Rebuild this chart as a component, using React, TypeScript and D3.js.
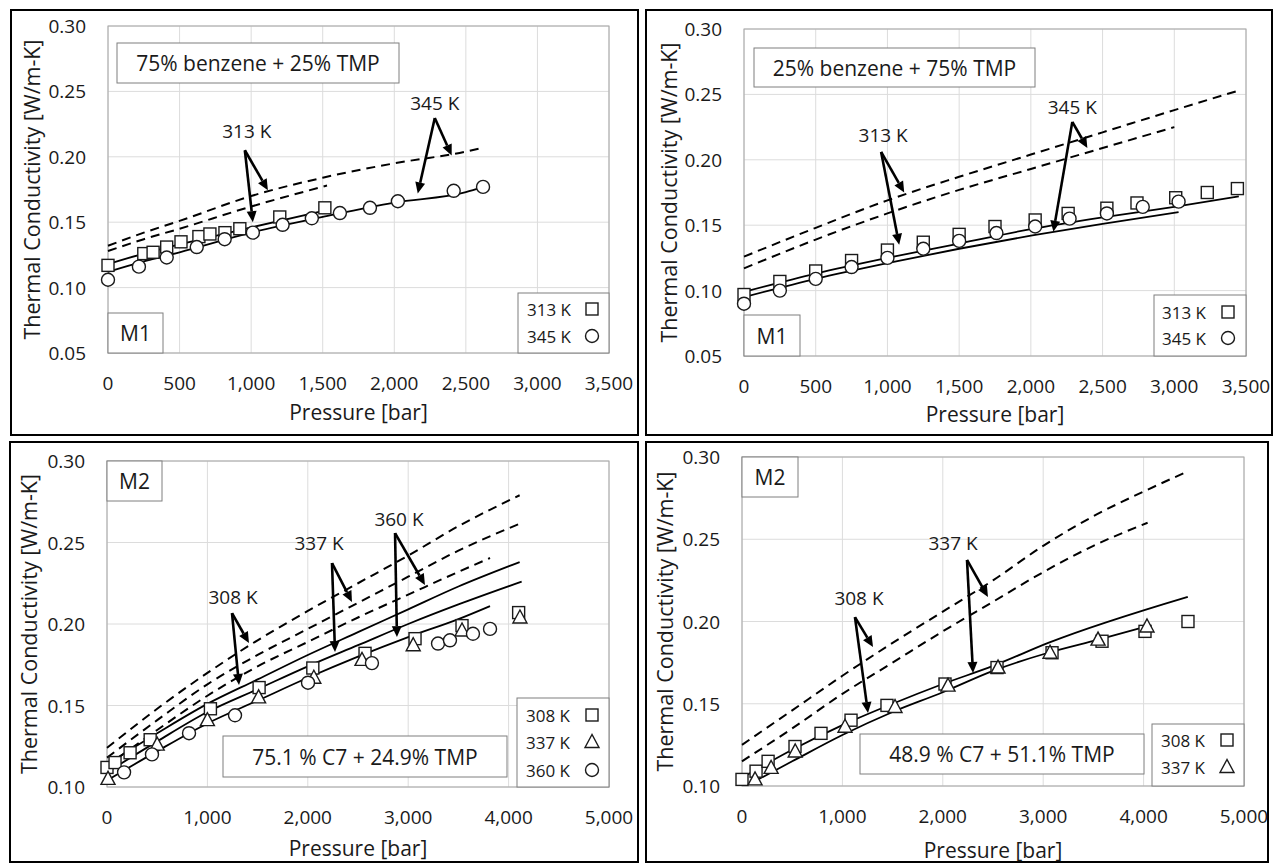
import React from "react";
import * as d3 from "d3";

// ---------------- DATA ----------------
// Panel 1: 75% benzene + 25% TMP (M1)
const p1Sq313 = [[0,0.117],[250,0.126],[315,0.127],[410,0.131],[510,0.135],[635,0.139],[712,0.141],[817,0.142],[921,0.145],[1200,0.154],[1515,0.161]];
const p1Ci345 = [[0,0.106],[216,0.116],[410,0.123],[620,0.131],[815,0.137],[1012,0.142],[1220,0.148],[1424,0.153],[1620,0.157],[1830,0.161],[2025,0.166],[2415,0.174],[2620,0.177]];
const p1Solid313 = [[0,0.118],[250,0.126],[500,0.133],[1000,0.146],[1520,0.159]];
const p1Solid345 = [[0,0.112],[250,0.120],[500,0.127],[1000,0.142],[1500,0.154],[2000,0.165],[2500,0.173],[2620,0.177]];
const p1Dash345 = [[0,0.132],[250,0.142],[500,0.151],[1000,0.170],[1500,0.184],[2000,0.195],[2500,0.204],[2620,0.207]];
const p1Dash313 = [[0,0.128],[250,0.137],[500,0.145],[1000,0.162],[1530,0.178]];

// Panel 2: 25% benzene + 75% TMP (M1)
const p2Sq313 = [[0,0.097],[250,0.107],[500,0.115],[750,0.123],[1000,0.131],[1250,0.137],[1500,0.143],[1750,0.149],[2030,0.154],[2260,0.159],[2530,0.163],[2740,0.167],[3010,0.171],[3230,0.175],[3440,0.178]];
const p2Ci345 = [[0,0.090],[250,0.100],[500,0.109],[750,0.118],[1000,0.125],[1250,0.132],[1500,0.138],[1760,0.144],[2030,0.149],[2270,0.155],[2530,0.159],[2780,0.164],[3030,0.168]];
const p2Solid313 = [[0,0.099],[500,0.113],[1000,0.125],[1500,0.136],[2000,0.147],[2500,0.156],[3000,0.164],[3450,0.172]];
const p2Solid345 = [[0,0.095],[500,0.109],[1000,0.121],[1500,0.132],[2000,0.142],[2500,0.151],[3030,0.160]];
const p2Dash313 = [[0,0.126],[500,0.148],[1000,0.169],[1500,0.187],[2000,0.204],[2500,0.221],[3000,0.238],[3450,0.253]];
const p2Dash345 = [[0,0.117],[500,0.139],[1000,0.159],[1500,0.177],[2000,0.193],[2500,0.209],[3000,0.225]];

// Panel 3: 75.1 % C7 + 24.9% TMP (M2)
const p3Sq308 = [[0,0.112],[80,0.115],[230,0.121],[430,0.129],[1030,0.148],[1515,0.161],[2050,0.173],[2570,0.182],[3068,0.191],[3536,0.199],[4100,0.207]];
const p3Tr337 = [[10,0.105],[500,0.126],[1000,0.141],[1510,0.155],[2060,0.167],[2540,0.178],[3050,0.187],[3536,0.196],[4113,0.204]];
const p3Ci360 = [[170,0.109],[448,0.120],[817,0.133],[1275,0.144],[2002,0.164],[2639,0.176],[3297,0.188],[3416,0.190],[3645,0.194],[3815,0.197]];
const p3SolidA = [[0,0.114],[500,0.133],[1000,0.151],[1500,0.166],[2000,0.181],[2500,0.195],[3000,0.209],[3500,0.223],[4110,0.238]];
const p3SolidB = [[0,0.109],[500,0.128],[1000,0.146],[1500,0.160],[2000,0.174],[2500,0.187],[3000,0.200],[3500,0.212],[4130,0.226]];
const p3SolidC = [[0,0.104],[500,0.122],[1000,0.139],[1500,0.153],[2000,0.167],[2500,0.180],[3000,0.192],[3500,0.203],[3815,0.211]];
const p3DashA = [[0,0.124],[500,0.148],[1000,0.170],[1500,0.190],[2000,0.208],[2500,0.225],[3000,0.242],[3500,0.260],[4110,0.279]];
const p3DashB = [[0,0.118],[500,0.141],[1000,0.163],[1500,0.181],[2000,0.197],[2500,0.213],[3000,0.229],[3500,0.245],[4130,0.262]];
const p3DashC = [[0,0.113],[500,0.135],[1000,0.156],[1500,0.174],[2000,0.189],[2500,0.204],[3000,0.218],[3500,0.232],[3815,0.2405]];

// Panel 4: 48.9 % C7 + 51.1% TMP (M2)
const p4Sq308 = [[0,0.104],[140,0.109],[260,0.115],[528,0.124],[787,0.132],[1086,0.140],[1444,0.149],[2022,0.162],[2540,0.172],[3088,0.181],[3586,0.188],[4014,0.194],[4442,0.200]];
const p4Tr337 = [[130,0.104],[290,0.111],[530,0.121],[1026,0.136],[1524,0.148],[2052,0.161],[2550,0.172],[3068,0.181],[3546,0.189],[4034,0.197]];
const p4SolidA = [[0,0.105],[500,0.122],[1000,0.137],[1500,0.150],[2000,0.162],[2500,0.173],[3050,0.187],[4440,0.215]];
const p4SolidB = [[100,0.102],[500,0.115],[1000,0.131],[1500,0.145],[2000,0.157],[2500,0.170],[3050,0.181],[3550,0.189],[4030,0.197]];
const p4DashA = [[0,0.125],[500,0.146],[1000,0.167],[1500,0.187],[2000,0.206],[2500,0.225],[3000,0.246],[3500,0.264],[4000,0.279],[4430,0.291]];
const p4DashB = [[0,0.115],[500,0.135],[1000,0.156],[1500,0.175],[2000,0.194],[2500,0.212],[3000,0.230],[3500,0.246],[4040,0.260]];

// Tick values
const xTicksTop = [0,500,1000,1500,2000,2500,3000,3500];
const yTicksTop = [0.05,0.10,0.15,0.20,0.25,0.30];
const xTicksBottom = [0,1000,2000,3000,4000,5000];
const yTicksBottom = [0.10,0.15,0.20,0.25,0.30];

// Arrow annotations (label, origin, targets) in data units
const p1Arrows = [
  { label: "313 K", at: [970, 0.220], from: [956, 0.205], to: [[1117, 0.1745], [1012, 0.150]] },
  { label: "345 K", at: [2283, 0.241], from: [2283, 0.2296], to: [[2401, 0.201], [2164, 0.172]] },
];
const p2Arrows = [
  { label: "313 K", at: [970, 0.219], from: [956, 0.206], to: [[1117, 0.175], [1082, 0.135]] },
  { label: "345 K", at: [2289, 0.240], from: [2289, 0.229], to: [[2394, 0.209], [2157, 0.145]] },
];
const p3Arrows = [
  { label: "308 K", at: [1255, 0.2166], from: [1245, 0.2067], to: [[1414, 0.1883], [1315, 0.1626]] },
  { label: "337 K", at: [2112, 0.2497], from: [2241, 0.2374], to: [[2440, 0.2135], [2271, 0.1828]] },
  { label: "360 K", at: [2908, 0.2644], from: [2869, 0.2558], to: [[3167, 0.2239], [2888, 0.192]] },
];
const p4Arrows = [
  { label: "308 K", at: [1165, 0.2143], from: [1125, 0.2027], to: [[1305, 0.1845], [1255, 0.1444]] },
  { label: "337 K", at: [2102, 0.2477], from: [2241, 0.2374], to: [[2450, 0.2149], [2301, 0.1687]] },
];

const FONT = "'Open Sans', 'Noto Sans', sans-serif";
const TXT = "#1a1a1a";

type Pt = number[];

function Marker({ type, x, y }: { type: string; x: number; y: number }) {
  const st = { fill: "#fff", stroke: "#1a1a1a", strokeWidth: 1.4 };
  if (type === "sq") return <rect x={x - 6} y={y - 6} width={12} height={12} {...st} />;
  if (type === "ci") return <circle cx={x} cy={y} r={6.5} {...st} />;
  return <polygon points={`${x},${y - 7.5} ${x - 7},${y + 5.5} ${x + 7},${y + 5.5}`} {...st} />;
}

function Arrow({ x1, y1, x2, y2 }: { x1: number; y1: number; x2: number; y2: number }) {
  const a = Math.atan2(y2 - y1, x2 - x1);
  const L = 11, W = 5;
  const bx = x2 - L * Math.cos(a), by = y2 - L * Math.sin(a);
  const p1 = [bx + W * Math.sin(a), by - W * Math.cos(a)];
  const p2 = [bx - W * Math.sin(a), by + W * Math.cos(a)];
  return (
    <g>
      <line x1={x1} y1={y1} x2={bx} y2={by} stroke="#000" strokeWidth={2.6} />
      <polygon points={`${x2},${y2} ${p1[0]},${p1[1]} ${p2[0]},${p2[1]}`} fill="#000" />
    </g>
  );
}

function Panel(props: any) {
  const { frame, plot, xMax, xTicks, yMin, yTicks, series, curves, arrows, comp, tag, legend, xTitleY, yTitleX } = props;
  const [px0, py0, px1, py1] = plot;
  const x = d3.scaleLinear().domain([0, xMax]).range([px0, px1]);
  const y = d3.scaleLinear().domain([yMin, 0.30]).range([py1, py0]);
  const line = d3.line<Pt>().x((d) => x(d[0])).y((d) => y(d[1])).curve(d3.curveMonotoneX);
  const fmtX = d3.format(",");
  const fmtY = d3.format(".2f");
  return (
    <g>
      <rect x={frame[0]} y={frame[1]} width={frame[2]} height={frame[3]} fill="#fff" stroke="#000" strokeWidth={2} />
      {xTicks.map((t: number) => (
        <line key={"gx" + t} x1={x(t)} x2={x(t)} y1={py0} y2={py1} stroke="#dcdcdc" strokeWidth={1} />
      ))}
      {yTicks.map((t: number) => (
        <line key={"gy" + t} x1={px0} x2={px1} y1={y(t)} y2={y(t)} stroke="#dcdcdc" strokeWidth={1} />
      ))}
      <rect x={px0} y={py0} width={px1 - px0} height={py1 - py0} fill="none" stroke="#a6a6a6" strokeWidth={1} />
      {xTicks.map((t: number) => (
        <text key={"tx" + t} x={x(t)} y={py1 + 30} textAnchor="middle" dominantBaseline="central" fontSize={19} fontFamily={FONT} fill={TXT}>
          {fmtX(t)}
        </text>
      ))}
      {yTicks.map((t: number) => (
        <text key={"ty" + t} x={px0 - 22} y={y(t)} textAnchor="end" dominantBaseline="central" fontSize={19} fontFamily={FONT} fill={TXT}>
          {fmtY(t)}
        </text>
      ))}
      <text x={(px0 + px1) / 2} y={xTitleY} textAnchor="middle" dominantBaseline="central" fontSize={21} fontFamily={FONT} fill={TXT}>
        Pressure [bar]
      </text>
      <text transform={`translate(${yTitleX},${(py0 + py1) / 2}) rotate(-90)`} textAnchor="middle" dominantBaseline="central" fontSize={21.5} fontFamily={FONT} fill={TXT}>
        Thermal Conductivity [W/m-K]
      </text>
      {curves.map((c: any, i: number) => (
        <path key={"c" + i} d={line(c.pts) || ""} fill="none" stroke="#000" strokeWidth={c.dashed ? 2 : 1.8} strokeDasharray={c.dashed ? "9,6" : undefined} />
      ))}
      {series.map((s: any, i: number) =>
        s.pts.map((d: Pt, j: number) => <Marker key={"m" + i + "-" + j} type={s.marker} x={x(d[0])} y={y(d[1])} />)
      )}
      <rect x={comp.x0} y={comp.y0} width={comp.x1 - comp.x0} height={comp.y1 - comp.y0} fill="#fff" stroke="#7f7f7f" strokeWidth={1} />
      <text x={(comp.x0 + comp.x1) / 2} y={(comp.y0 + comp.y1) / 2} textAnchor="middle" dominantBaseline="central" fontSize={21} fontFamily={FONT} fill={TXT}>
        {comp.text}
      </text>
      <rect x={tag.x0} y={tag.y0} width={tag.x1 - tag.x0} height={tag.y1 - tag.y0} fill="#fff" stroke="#7f7f7f" strokeWidth={1} />
      <text x={(tag.x0 + tag.x1) / 2} y={(tag.y0 + tag.y1) / 2} textAnchor="middle" dominantBaseline="central" fontSize={21} fontFamily={FONT} fill={TXT}>
        {tag.text}
      </text>
      <rect x={legend.x0} y={legend.y0} width={legend.x1 - legend.x0} height={legend.y1 - legend.y0} fill="#fff" stroke="#7f7f7f" strokeWidth={1} />
      {series.map((s: any, i: number) => (
        <g key={"lg" + i}>
          <text x={legend.textX} y={legend.rows[i]} dominantBaseline="central" fontSize={17} fontFamily={FONT} fill={TXT}>
            {s.name}
          </text>
          <Marker type={s.marker} x={legend.markX} y={legend.rows[i]} />
        </g>
      ))}
      {arrows.map((a: any, i: number) => (
        <g key={"a" + i}>
          <text x={x(a.at[0])} y={y(a.at[1])} textAnchor="middle" dominantBaseline="central" fontSize={19} fontFamily={FONT} fill={TXT}>
            {a.label}
          </text>
          {a.to.map((t: Pt, j: number) => (
            <Arrow key={j} x1={x(a.from[0])} y1={y(a.from[1])} x2={x(t[0])} y2={y(t[1])} />
          ))}
        </g>
      ))}
    </g>
  );
}

export default function App() {
  return (
    <svg width={1275} height={863} style={{ position: "absolute", left: 0, top: 0, background: "#fff" }}>
      <rect x={0} y={0} width={1275} height={863} fill="#fff" />
      <Panel
        frame={[11, 10, 627, 425]}
        plot={[108, 26, 609, 353]}
        xMax={3500} xTicks={xTicksTop} yMin={0.05} yTicks={yTicksTop}
        xTitleY={412} yTitleX={31}
        series={[{ name: "313 K", marker: "sq", pts: p1Sq313 }, { name: "345 K", marker: "ci", pts: p1Ci345 }]}
        curves={[{ pts: p1Solid313, dashed: false }, { pts: p1Solid345, dashed: false }, { pts: p1Dash313, dashed: true }, { pts: p1Dash345, dashed: true }]}
        arrows={p1Arrows}
        comp={{ x0: 117, y0: 43, x1: 399, y1: 83, text: "75% benzene + 25% TMP" }}
        tag={{ x0: 108, y0: 313, x1: 163, y1: 353, text: "M1" }}
        legend={{ x0: 518, y0: 293, x1: 609, y1: 353, textX: 527, markX: 592, rows: [309, 336] }}
      />
      <Panel
        frame={[646, 10, 626, 425]}
        plot={[744, 29, 1246, 356]}
        xMax={3500} xTicks={xTicksTop} yMin={0.05} yTicks={yTicksTop}
        xTitleY={414} yTitleX={668}
        series={[{ name: "313 K", marker: "sq", pts: p2Sq313 }, { name: "345 K", marker: "ci", pts: p2Ci345 }]}
        curves={[{ pts: p2Solid313, dashed: false }, { pts: p2Solid345, dashed: false }, { pts: p2Dash313, dashed: true }, { pts: p2Dash345, dashed: true }]}
        arrows={p2Arrows}
        comp={{ x0: 754, y0: 48, x1: 1035, y1: 87, text: "25% benzene + 75% TMP" }}
        tag={{ x0: 744, y0: 315, x1: 800, y1: 356, text: "M1" }}
        legend={{ x0: 1154, y0: 295, x1: 1246, y1: 356, textX: 1162, markX: 1228, rows: [312, 338] }}
      />
      <Panel
        frame={[10, 442, 628, 420]}
        plot={[107, 461, 609, 787]}
        xMax={5000} xTicks={xTicksBottom} yMin={0.10} yTicks={yTicksBottom}
        xTitleY={848} yTitleX={28}
        series={[{ name: "308 K", marker: "sq", pts: p3Sq308 }, { name: "337 K", marker: "tr", pts: p3Tr337 }, { name: "360 K", marker: "ci", pts: p3Ci360 }]}
        curves={[{ pts: p3SolidA, dashed: false }, { pts: p3SolidB, dashed: false }, { pts: p3SolidC, dashed: false }, { pts: p3DashA, dashed: true }, { pts: p3DashB, dashed: true }, { pts: p3DashC, dashed: true }]}
        arrows={p3Arrows}
        comp={{ x0: 223, y0: 736, x1: 507, y1: 777, text: "75.1 % C7 + 24.9% TMP" }}
        tag={{ x0: 107, y0: 461, x1: 162, y1: 501, text: "M2" }}
        legend={{ x0: 517, y0: 698, x1: 609, y1: 787, textX: 526, markX: 592, rows: [715, 742, 770] }}
      />
      <Panel
        frame={[646, 442, 622, 420]}
        plot={[742, 457, 1244, 786]}
        xMax={5000} xTicks={xTicksBottom} yMin={0.10} yTicks={yTicksBottom}
        xTitleY={850} yTitleX={664}
        series={[{ name: "308 K", marker: "sq", pts: p4Sq308 }, { name: "337 K", marker: "tr", pts: p4Tr337 }]}
        curves={[{ pts: p4SolidA, dashed: false }, { pts: p4SolidB, dashed: false }, { pts: p4DashA, dashed: true }, { pts: p4DashB, dashed: true }]}
        arrows={p4Arrows}
        comp={{ x0: 860, y0: 734, x1: 1144, y1: 774, text: "48.9 % C7 + 51.1% TMP" }}
        tag={{ x0: 742, y0: 457, x1: 798, y1: 497, text: "M2" }}
        legend={{ x0: 1152, y0: 724, x1: 1244, y1: 786, textX: 1161, markX: 1227, rows: [740, 767] }}
      />
    </svg>
  );
}
